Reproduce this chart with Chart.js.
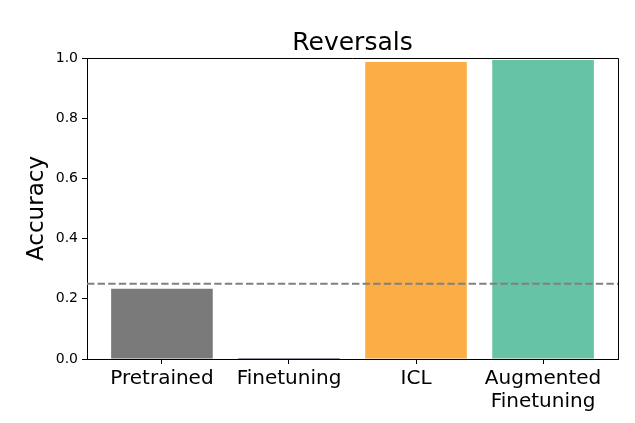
<!DOCTYPE html>
<html>
<head>
<meta charset="utf-8">
<script src="https://cdn.jsdelivr.net/npm/chart.js@4.4.1/dist/chart.umd.min.js"></script>
<style>
  html, body { margin: 0; padding: 0; background: #fff; }
  #wrap { width: 635px; height: 423px; }
</style>
</head>
<body>
<div id="wrap"><canvas id="reversalsChart" width="635" height="423"></canvas></div>
<script>
// data
const categories = ['Pretrained', 'Finetuning', 'ICL', ['Augmented', 'Finetuning']];
const accuracy = [0.233, 0.003, 0.987, 0.993];
const barColors = ['#7a7a7a', '#2c2c5c', '#fbae45', '#66c3a5'];
const chanceLevel = 0.25;
const yTicks = [0, 0.2, 0.4, 0.6, 0.8, 1.0];
const xMin = -0.59, xMax = 3.59;
const titleText = 'Reversals';

const FONT = "'DejaVu Sans', sans-serif";

// top/right spines + title centred over the plot area
const boxPlugin = {
    id: 'box',
    afterDraw(chart) {
        const { ctx, chartArea: a } = chart;
        ctx.save();
        ctx.strokeStyle = '#000';
        ctx.lineWidth = 1;
        ctx.beginPath();
        ctx.moveTo(a.left, a.top + 0.5);
        ctx.lineTo(a.right + 0.5, a.top + 0.5);
        ctx.lineTo(a.right + 0.5, a.bottom);
        ctx.stroke();

        ctx.fillStyle = '#000';
        ctx.font = '25px ' + FONT;
        ctx.textAlign = 'center';
        ctx.textBaseline = 'alphabetic';
        ctx.fillText(titleText, (a.left + a.right) / 2, a.top - 8);
        ctx.restore();
    }
};

const ctx = document.getElementById('reversalsChart').getContext('2d');
new Chart(ctx, {
    type: 'bar',
    data: {
        datasets: [{
            type: 'line',
            data: [{ x: xMin, y: chanceLevel }, { x: xMax, y: chanceLevel }],
            borderColor: '#808080',
            borderWidth: 2,
            borderDash: [7.4, 3.2],
            pointRadius: 0,
            order: 0
        }, {
            data: accuracy.map((v, i) => ({ x: i, y: v })),
            backgroundColor: barColors,
            barPercentage: 0.8,
            categoryPercentage: 1.0,
            order: 1
        }]
    },
    options: {
        responsive: false,
        animation: false,
        layout: { padding: { left: 0, right: 17, top: 58, bottom: 0 } },
        plugins: {
            legend: { display: false },
            tooltip: { enabled: false },
            title: { display: false }
        },
        scales: {
            x: {
                type: 'linear',
                min: xMin,
                max: xMax,
                offset: false,
                afterBuildTicks: s => { s.ticks = categories.map((_, i) => ({ value: i })); },
                afterFit: s => { s.height = 64; },
                ticks: {
                    color: '#000',
                    font: { family: FONT, size: 20, lineHeight: 1.15 },
                    padding: 3,
                    maxRotation: 0,
                    autoSkip: false,
                    callback: v => categories[v]
                },
                grid: { drawOnChartArea: false, offset: false, color: '#000', tickLength: 5 },
                border: { color: '#000', width: 1 }
            },
            y: {
                min: 0,
                max: 1,
                afterBuildTicks: s => { s.ticks = yTicks.map(v => ({ value: v })); },
                afterFit: s => { s.width = 87; },
                ticks: {
                    color: '#000',
                    font: { family: FONT, size: 14 },
                    padding: 4,
                    callback: v => v.toFixed(1)
                },
                title: {
                    display: true,
                    text: 'Accuracy',
                    color: '#000',
                    font: { family: FONT, size: 23, lineHeight: 1.2 },
                    padding: { top: 23, bottom: 0 }
                },
                grid: { drawOnChartArea: false, color: '#000', tickLength: 5 },
                border: { color: '#000', width: 1 }
            }
        }
    },
    plugins: [boxPlugin]
});
</script>
</body>
</html>
